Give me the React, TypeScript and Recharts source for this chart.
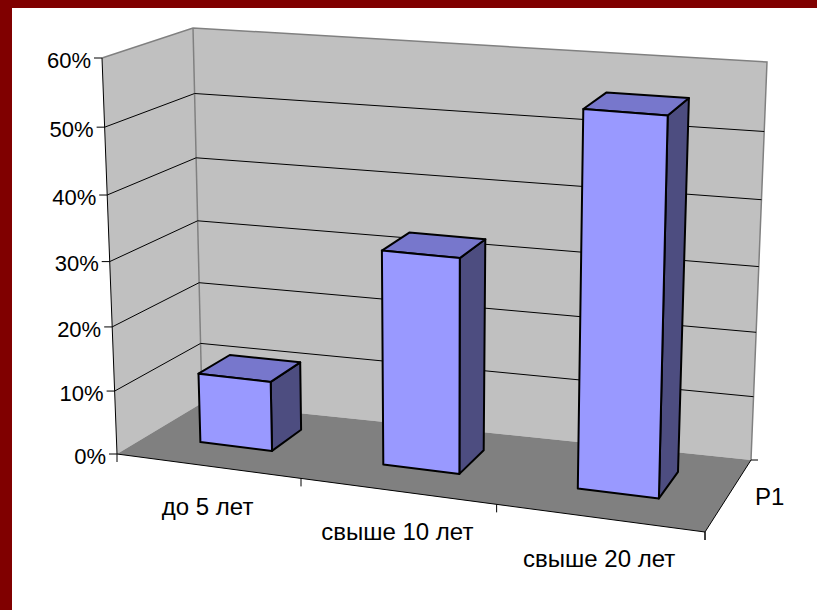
import { BarChart, Bar, XAxis, YAxis, ReferenceArea } from "recharts";

const categories = ["до 5 лет", "свыше 10 лет", "свыше 20 лет"];
const shares = [0.11, 0.33, 0.56];
const yTicks = [0, 0.1, 0.2, 0.3, 0.4, 0.5, 0.6];
const seriesLabel = "P1";

const data = categories.map((name, i) => ({ name, share: shares[i] }));

const W = 817;
const H = 610;
const Y_AXIS_W = 30;
const X_AXIS_H = 30;
const margin = { top: 40, right: 40, bottom: 10, left: 10 };
const plot = {
  left: margin.left + Y_AXIS_W,
  top: margin.top,
  width: W - margin.left - Y_AXIS_W - margin.right,
  height: H - margin.top - margin.bottom - X_AXIS_H,
};
const FONT = "'Liberation Sans', Arial, sans-serif";

type Pt = [number, number];
type Quad = { bl: Pt; tl: Pt; br: Pt; tr: Pt };

// where the 3d box lands on screen: front plane (depth 0) and back wall (depth 1)
const front: Quad = { bl: [117, 454], tl: [102, 58], br: [705, 532], tr: [715, 108] };
const back: Quad = { bl: [202, 403], tl: [193, 28], br: [751, 460], tr: [767, 62] };
const BAR_FRONT = 0.36;
const BAR_BACK = 0.74;

const persp = (t: number, k: number) => ((1 + k) * t) / (1 + k * t);

function bil(c: Quad, u: number, v: number): Pt {
  return [
    (1 - u) * (1 - v) * c.bl[0] + u * (1 - v) * c.br[0] + (1 - u) * v * c.tl[0] + u * v * c.tr[0],
    (1 - u) * (1 - v) * c.bl[1] + u * (1 - v) * c.br[1] + (1 - u) * v * c.tl[1] + u * v * c.tr[1],
  ];
}

// flat chart pixel + depth -> screen point
function project(px: number, py: number, d: number): Pt {
  const u = persp((px - plot.left) / plot.width, -0.089);
  const v = persp((plot.top + plot.height - py) / plot.height, -0.055);
  const f = bil(front, u, v);
  const b = bil(back, u, v);
  return [f[0] * (1 - d) + b[0] * d, f[1] * (1 - d) + b[1] * d];
}

const pts = (list: Pt[]) => list.map((p) => `${p[0].toFixed(1)},${p[1].toFixed(1)}`).join(" ");

const label = (size: number): React.CSSProperties => ({ fontSize: size, fontFamily: FONT, fill: "#000" });

function Walls(props: any) {
  const { x, y, width, height } = props;
  const l = x;
  const r = x + width;
  const t = y;
  const b = y + height;
  const rb0 = project(r, b, 0);
  const rb1 = project(r, b, 1);
  return (
    <g>
      <polygon points={pts([project(l, b, 1), project(r, b, 1), project(r, t, 1), project(l, t, 1)])} fill="#c0c0c0" />
      <polygon points={pts([project(l, b, 0), project(l, b, 1), project(l, t, 1), project(l, t, 0)])} fill="#c0c0c0" />
      <polygon points={pts([project(l, b, 0), project(r, b, 0), project(r, b, 1), project(l, b, 1)])} fill="#808080" />
      <polyline
        points={pts([project(l, t, 0), project(l, t, 1), project(r, t, 1), project(r, b, 1)])}
        fill="none"
        stroke="#808080"
        strokeWidth={1.5}
      />
      <polyline points={pts([project(l, t, 1), project(l, b, 1)])} fill="none" stroke="#808080" strokeWidth={1.5} />
      <polyline points={pts([project(l, t, 0), project(l, b, 0), project(r, b, 0), project(r, b, 1)])} fill="none" stroke="#000" />
      <line x1={rb1[0]} y1={rb1[1]} x2={rb1[0] + 7} y2={rb1[1]} stroke="#000" />
      <line x1={rb0[0]} y1={rb0[1]} x2={rb0[0]} y2={rb0[1] + 8} stroke="#000" />
      <text x={(rb0[0] + rb1[0]) / 2 + 27} y={(rb0[1] + rb1[1]) / 2} dy="0.36em" style={label(24)}>
        {seriesLabel}
      </text>
    </g>
  );
}

function YTick(props: any) {
  const { y, payload } = props;
  const v = payload.value;
  const l = plot.left;
  const r = plot.left + plot.width;
  const [ax, ay] = project(l, y, 0);
  const inner = v > 0 && v < yTicks[yTicks.length - 1];
  return (
    <g>
      {inner && (
        <polyline points={pts([project(l, y, 0), project(l, y, 1), project(r, y, 1)])} fill="none" stroke="#000" strokeWidth={1} />
      )}
      <line x1={ax - 8} y1={ay} x2={ax} y2={ay} stroke="#000" />
      <text x={ax - 11} y={ay} dy="0.45em" textAnchor="end" style={label(22)}>
        {Math.round(v * 100)}%
      </text>
    </g>
  );
}

function XTick(props: any) {
  const { x, index, payload } = props;
  const band = plot.width / categories.length;
  const b = plot.top + plot.height;
  const [lx, ly] = project(x, b, 0);
  const edges = [x - band / 2];
  if (index === categories.length - 1) edges.push(x + band / 2);
  return (
    <g>
      {edges.map((e, i) => {
        const [ex, ey] = project(e, b, 0);
        return <line key={i} x1={ex} y1={ey} x2={ex} y2={ey + 8} stroke="#000" />;
      })}
      <text x={lx} y={ly + 40} dy="0.36em" textAnchor="middle" style={label(24)}>
        {payload.value}
      </text>
    </g>
  );
}

function Box(props: any) {
  const { x, y, width, height } = props;
  if (!height) return null;
  const x0 = x;
  const x1 = x + width;
  const yt = y;
  const yb = y + height;
  const f = BAR_FRONT;
  const k = BAR_BACK;
  const edge = { stroke: "#000", strokeWidth: 2, strokeLinejoin: "round" as const };
  return (
    <g>
      <polygon points={pts([project(x1, yb, f), project(x1, yb, k), project(x1, yt, k), project(x1, yt, f)])} fill="#4d4d80" {...edge} />
      <polygon points={pts([project(x0, yt, f), project(x1, yt, f), project(x1, yt, k), project(x0, yt, k)])} fill="#7777cc" {...edge} />
      <polygon points={pts([project(x0, yb, f), project(x1, yb, f), project(x1, yt, f), project(x0, yt, f)])} fill="#9999ff" {...edge} />
    </g>
  );
}

const layer: React.CSSProperties = { position: "absolute", left: 0, top: 0 };

export default function App() {
  return (
    <div style={{ position: "fixed", left: 0, top: 0, width: W, height: H, background: "#fff", overflow: "hidden" }}>
      <div style={layer}>
        <BarChart width={W} height={H} data={data} margin={margin} barCategoryGap="30%">
          <XAxis dataKey="name" height={X_AXIS_H} axisLine={false} tickLine={false} tick={false} />
          <YAxis type="number" domain={[0, 0.6]} ticks={yTicks} width={Y_AXIS_W} axisLine={false} tickLine={false} tick={false} />
          <Bar dataKey="share" fill="none" isAnimationActive={false} />
          <ReferenceArea y1={0} y2={0.6} shape={(p: any) => <Walls {...p} />} />
        </BarChart>
      </div>
      <div style={layer}>
        <BarChart width={W} height={H} data={data} margin={margin} barCategoryGap="30%">
          <XAxis
            dataKey="name"
            height={X_AXIS_H}
            interval={0}
            axisLine={false}
            tickLine={false}
            tick={(p: any) => <XTick {...p} />}
          />
          <YAxis
            type="number"
            domain={[0, 0.6]}
            ticks={yTicks}
            width={Y_AXIS_W}
            interval={0}
            axisLine={false}
            tickLine={false}
            tick={(p: any) => <YTick {...p} />}
          />
          <Bar dataKey="share" fill="none" isAnimationActive={false} />
        </BarChart>
      </div>
      <div style={layer}>
        <BarChart width={W} height={H} data={data} margin={margin} barCategoryGap="30%">
          <XAxis dataKey="name" height={X_AXIS_H} axisLine={false} tickLine={false} tick={false} />
          <YAxis type="number" domain={[0, 0.6]} ticks={yTicks} width={Y_AXIS_W} axisLine={false} tickLine={false} tick={false} />
          <Bar dataKey="share" isAnimationActive={false} shape={(p: any) => <Box {...p} />} />
        </BarChart>
      </div>
      <div style={{ position: "absolute", left: 0, top: 0, width: W, height: 8, background: "#800000" }} />
      <div style={{ position: "absolute", left: 0, top: 0, width: 12, height: H, background: "#800000" }} />
    </div>
  );
}
